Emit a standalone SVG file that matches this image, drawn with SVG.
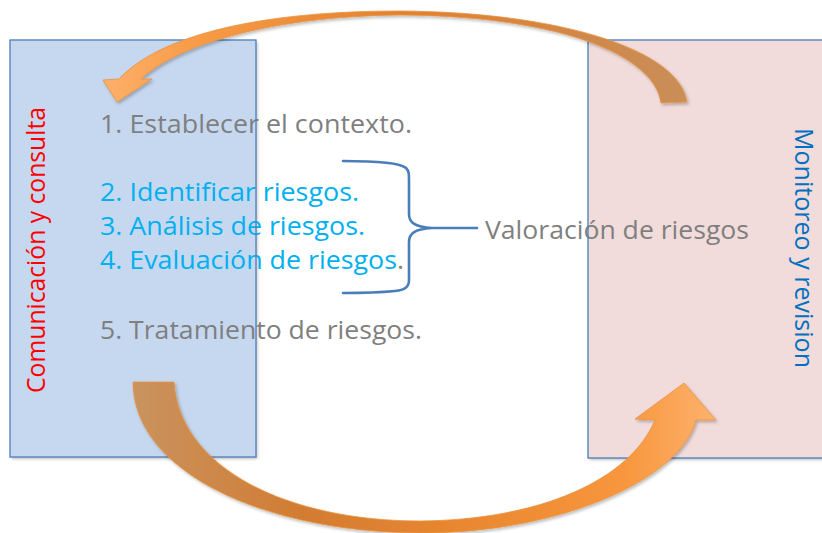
<svg xmlns="http://www.w3.org/2000/svg" width="822" height="533" viewBox="0 0 822 533">
<style>
  .t { font-family: "Open Sans", "Noto Sans", "Liberation Sans", sans-serif; font-size: 25px; }
  .gray { fill: #7f7f7f; }
  .cyan { fill: #00b0f0; }
  .edge { fill: none; stroke: #4a7ebb; stroke-width: 1.3; }
  .brace { fill: none; stroke: #4a7ebb; stroke-width: 2.6; stroke-linecap: round; stroke-linejoin: round; }
</style>
<defs>
  <linearGradient id="gTop" gradientUnits="userSpaceOnUse" x1="687" y1="0" x2="103" y2="0">
    <stop offset="0" stop-color="#c98e58"/>
    <stop offset="0.17" stop-color="#d0884b"/>
    <stop offset="0.49" stop-color="#e3812f"/>
    <stop offset="0.83" stop-color="#f79a45"/>
    <stop offset="1" stop-color="#fdb06a"/>
  </linearGradient>
  <linearGradient id="gBot" gradientUnits="userSpaceOnUse" x1="133" y1="0" x2="716" y2="0">
    <stop offset="0" stop-color="#c9935f"/>
    <stop offset="0.29" stop-color="#d27c32"/>
    <stop offset="0.54" stop-color="#e8862f"/>
    <stop offset="0.84" stop-color="#f8963d"/>
    <stop offset="1" stop-color="#fdb26c"/>
  </linearGradient>
  <filter id="sh" x="-5%" y="-5%" width="110%" height="115%">
    <feDropShadow dx="1.5" dy="2" stdDeviation="1.5" flood-color="#000" flood-opacity="0.25"/>
  </filter>
</defs>

<g id="comunicacion">
  <rect x="10" y="40" width="246" height="417" fill="#c6d8ef" filter="url(#sh)"/>
  <text class="t" transform="translate(45,250) rotate(-90)" text-anchor="middle" fill="#ff0000" textLength="286" lengthAdjust="spacingAndGlyphs">Comunicación y consulta</text>
</g>

<g id="monitoreo">
  <rect x="588" y="40" width="250" height="418" fill="#f1dcdb" filter="url(#sh)"/>
  <text class="t" transform="translate(795,248) rotate(90)" text-anchor="middle" fill="#0070c0" textLength="240" lengthAdjust="spacingAndGlyphs">Monitoreo y revision</text>
</g>

<g id="pasos">
  <text class="t gray" x="100" y="133" textLength="312" lengthAdjust="spacingAndGlyphs">1. Establecer el contexto.</text>
  <text class="t cyan" x="100" y="201" textLength="259" lengthAdjust="spacingAndGlyphs">2. Identificar riesgos.</text>
  <text class="t cyan" x="100" y="235" textLength="265" lengthAdjust="spacingAndGlyphs">3. Análisis de riesgos.</text>
  <text class="t cyan" x="100" y="269" textLength="304" lengthAdjust="spacingAndGlyphs">4. Evaluación de riesgos<tspan class="gray">.</tspan></text>
  <text class="t gray" x="100" y="339" textLength="322" lengthAdjust="spacingAndGlyphs">5. Tratamiento de riesgos.</text>
</g>

<g id="valoracion">
  <text class="t gray" x="485" y="239" textLength="264" lengthAdjust="spacingAndGlyphs">Valoración de riesgos</text>
</g>

<g id="borders">
  <rect class="edge" x="10" y="40" width="246" height="417"/>
  <rect class="edge" x="588" y="40" width="250" height="418"/>
</g>

<g id="connectors">
  <path class="brace" d="M343,161 C375,161 400,163 406,168 C409,171 409,174 409,180 L409,214 C409,222 414,227 432,228 L477,228 M432,228 C414,229 409,234 409,242 L409,280 C409,287 405,290 395,291 C375,293 355,293 343,293"/>
  <path fill="url(#gTop)" stroke="#e9933f" stroke-width="0.8" filter="url(#sh)" d="M687,102 C680,50 560,12 400,11 C260,11 160,35 119,79 L103,80 L117,102 L152,79 L141,79 C180,42 280,16 400,15 C560,16 655,55 661,103 Z"/>
  <path fill="url(#gBot)" stroke="#e9933f" stroke-width="0.8" filter="url(#sh)" d="M133,382 C133,470 260,532 420,533 C560,533 680,480 696,420 L716,420 L684,383 L635,419 L655,420 C630,480 540,520 420,521 C290,521 180,470 174,382 Z"/>
</g>
</svg>
